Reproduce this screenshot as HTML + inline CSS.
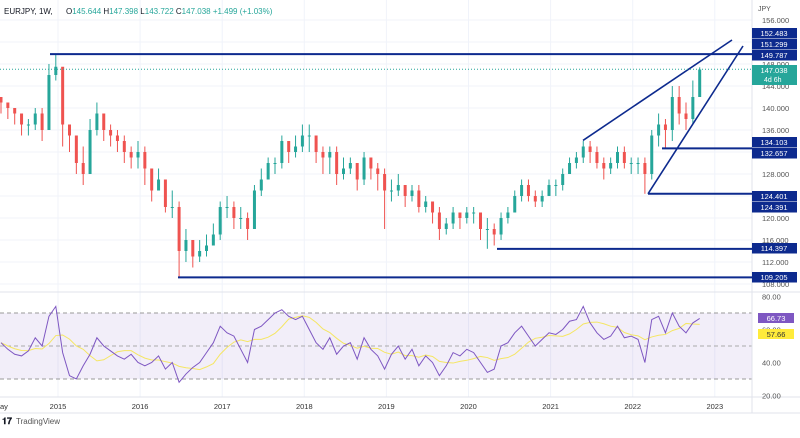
<!DOCTYPE html>
<html><head><meta charset="utf-8"><style>
body{margin:0;background:#fff;font-family:"Liberation Sans",sans-serif;}
svg text{font-family:"Liberation Sans",sans-serif;}
</style></head><body>
<svg id="c" width="800" height="433" viewBox="0 0 800 433">
<rect x="0" y="0" width="800" height="433" fill="#fff"/>
<g id="grid"></g>
<rect x="0" y="313" width="752" height="66" fill="#7e57c2" fill-opacity="0.1"/>
<line x1="0" y1="313" x2="752" y2="313" stroke="#999" stroke-dasharray="4,3" stroke-width="1"/>
<line x1="0" y1="346" x2="752" y2="346" stroke="#aaa" stroke-dasharray="4,3" stroke-width="1"/>
<line x1="0" y1="379" x2="752" y2="379" stroke="#999" stroke-dasharray="4,3" stroke-width="1"/>
<line x1="0" y1="292" x2="800" y2="292" stroke="#e0e3eb"/>
<line x1="0" y1="397" x2="800" y2="397" stroke="#e0e3eb"/>
<line x1="752" y1="0" x2="752" y2="413" stroke="#e0e3eb"/>
<line x1="0" y1="413" x2="800" y2="413" stroke="#e0e3eb"/>
<g id="candles"></g>
<g id="rsi"></g>
<g id="levels"></g>
<g id="axis"></g>
<text x="4" y="14" font-size="8" fill="#131722">EURJPY, 1W,</text>
<text x="66" y="14" font-size="8" fill="#26a69a"><tspan fill="#131722">O</tspan>145.644 <tspan fill="#131722">H</tspan>147.398 <tspan fill="#131722">L</tspan>143.722 <tspan fill="#131722">C</tspan>147.038 +1.499 (+1.03%)</text>
<text x="758" y="11" font-size="7" fill="#555">JPY</text>
<text x="2" y="424" font-size="9" fill="#131722" font-weight="bold">𝟏𝟕</text>
<text x="16" y="424" font-size="8" fill="#555">TradingView</text>
</svg>
<script>
const priceTicks=[156,152,148,144,140,136,132,128,124,120,116,112,108];
const rsiTicks=[80,60,40,20];
const years=["2015","2016","2017","2018","2019","2020","2021","2022","2023"];
const closes=[141,140,139,137,137,139,136,146,147.5,
137,135,130,128,136,139,136,135,134,132,131,132,
129,125,127,122,122,114,116,113,114,115,117,122,
122,120,120,118,125,127,130,130,134,132,133,135,
135,132,131,132,128,129,130,127,131,129,128,125,
125,126,124,125,122,123,121,118,119,121,120,121,
121,118,118,117,120,121,124,126,124,123,124,126,
126,128,130,131,133,132,130,129,130,132,130,130,
130,128,135,137,136,142,139,138,142,147];
const highs=[142,141,140,139,138,140,140,148,149.8,
141,137,134,133,138,141,139,137,136,135,133,134,
133,129,129,127,125,123,118,116,116,117,119,123,
124,123,122,121,126,129,131,131,135,134,135,137,
137,135,133,133,133,131,131,130,132,131,130,129,
127,128,126,126,126,124,123,122,120,122,121,122,
122,121,120,119,121,122,125,127,127,125,125,127,
127,129,131,132,134,134,133,131,131,133,133,131,
131,131,136,139,138,144,144,141,145,147.4];
const lows=[139,138,137,135,135,136,134,136,145,
133,132,128,126,128,135,134,133,132,130,129,129,
126,123,125,121,120,109.2,112,111,112,113,115,116,
120,118,118,116,118,124,127,128,129,130,131,132,
132,130,128,128,126,127,128,125,126,127,125,118,
123,124,122,123,121,121,119,116,117,118,118,119,
119,116,114.4,115,116,119,121,123,123,122,122,124,
124,125,128,129,130,130,129,127,128,129,129,128,
128,124.4,127,133,132.7,134,137,136,137,143.7];
const rsiVals=[52,48,45,44,47,55,50,68,74,
46,32,30,38,45,55,50,47,44,42,45,40,
38,40,44,36,40,28,33,37,40,46,52,62,
58,56,48,40,60,62,66,70,72,68,66,68,
60,52,48,55,45,50,52,42,55,48,44,36,
45,50,42,48,38,44,40,32,38,46,44,48,
46,40,34,36,50,52,58,62,56,50,54,58,
57,60,65,66,74,64,58,54,56,62,55,56,
54,40,66,68,58,70,62,58,64,66.7];
const levelVals=[149.787,109.205,114.397,124.401,132.657];
const levelStartX=[50,178,497,648,662];
const N=closes.length;
const x0=-2,pxPerMonth=6.85;
function xm(i){return x0+i*pxPerMonth+3;}
function yp(p){return 20+(156-p)*5.5;}
function yr(v){return 296.5+(80-v)*1.65;}
const NS="http://www.w3.org/2000/svg";
function mk(t,a,parent){const e=document.createElementNS(NS,t);for(const k in a)e.setAttribute(k,a[k]);document.getElementById(parent).appendChild(e);return e;}
priceTicks.forEach(p=>{const l=mk('line',{x1:0,x2:752,y1:yp(p),y2:yp(p),stroke:'#f0f3fa'},'grid');


const t=mk('text',{x:762,y:yp(p)+3,'font-size':7.5,fill:'#555'},'axis');t.textContent=p.toFixed(3);

});
rsiTicks.forEach(v=>{const t=mk('text',{x:762,y:yr(v)+3,'font-size':7.5,fill:'#555'},'axis');t.textContent=v.toFixed(2);

});
years.forEach((y,i)=>{const x=58+i*82.1;const l=mk('line',{x1:x,x2:x,y1:0,y2:397,stroke:'#f0f3fa'},'grid');


const t=mk('text',{x:x,y:409,'font-size':7.5,fill:'#333','text-anchor':'middle'},'axis');t.textContent=y;

});
{const t=mk('text',{x:0,y:409,'font-size':7.5,fill:'#333'},'axis');t.textContent='ay';}
for(let i=0;i<N;i++){const o=i?closes[i-1]:closes[0]+1,c=closes[i];const up=c>=o;const col=up?'#26a69a':'#ef5350';const x=xm(i);
const w=mk('line',{x1:x,x2:x,y1:yp(highs[i]),y2:yp(lows[i]),stroke:col,'stroke-width':1},'candles');


const b=mk('rect',{x:x-1.5,width:3,y:yp(Math.max(o,c)),height:Math.max(1,Math.abs(yp(o)-yp(c))),fill:col},'candles');

}
let d='',dm='';for(let i=0;i<N;i++){d+=(i?'L':'M')+xm(i)+','+yr(rsiVals[i]);
let s=0,n=0;for(let j=Math.max(0,i-5);j<=i;j++){s+=rsiVals[j];n++;}dm+=(i?'L':'M')+xm(i)+','+yr(s/n);}
const ma=mk('path',{d:dm,fill:'none',stroke:'#f5e663','stroke-width':1},'rsi');


const rl=mk('path',{d:d,fill:'none',stroke:'#7e57c2','stroke-width':1},'rsi');


levelVals.forEach((v,i)=>{const l=mk('line',{x1:levelStartX[i],x2:752,y1:yp(v),y2:yp(v),stroke:'#0d2a8e','stroke-width':2},'levels');

});
const t1=mk('line',{x1:583,y1:yp(134.103),x2:732,y2:40,stroke:'#0d2a8e','stroke-width':1.6},'levels');


const t2=mk('line',{x1:648,y1:yp(124.391),x2:743,y2:46,stroke:'#0d2a8e','stroke-width':1.6},'levels');


const cl=mk('line',{x1:0,x2:752,y1:yp(147.038),y2:yp(147.038),stroke:'#26a69a','stroke-dasharray':'1,2'},'levels');


const tags=[["152.483"],["151.299"],["149.787"],["134.103"],["132.657"],["124.401"],["124.391"],["114.397"],["109.205"]];
const tagY=[33,44,55,142,153,196,207,248,277];
tags.forEach((t,i)=>{const r=mk('rect',{x:752,y:tagY[i]-5,width:45,height:10.5,fill:'#0d2a8e'},'axis');


const tx=mk('text',{x:774,y:tagY[i]+3,'font-size':7.5,fill:'#fff','text-anchor':'middle'},'axis');tx.textContent=t[0];});
{const r=mk('rect',{x:752,y:65,width:45,height:20,fill:'#26a69a'},'axis');


let tx=mk('text',{x:774,y:73,'font-size':7.5,fill:'#fff','text-anchor':'middle'},'axis');tx.textContent='147.038';
tx=mk('text',{x:764,y:82,'font-size':7,fill:'#fff'},'axis');tx.textContent='4d 6h';
const r2=mk('rect',{x:758,y:313,width:36,height:10,fill:'#7e57c2'},'axis');


tx=mk('text',{x:776,y:321,'font-size':7.5,fill:'#fff','text-anchor':'middle'},'axis');tx.textContent='66.73';
const r3=mk('rect',{x:758,y:329,width:36,height:10,fill:'#ffeb3b'},'axis');


tx=mk('text',{x:776,y:337,'font-size':7.5,fill:'#333','text-anchor':'middle'},'axis');tx.textContent='57.66';}
</script>
</body></html>
